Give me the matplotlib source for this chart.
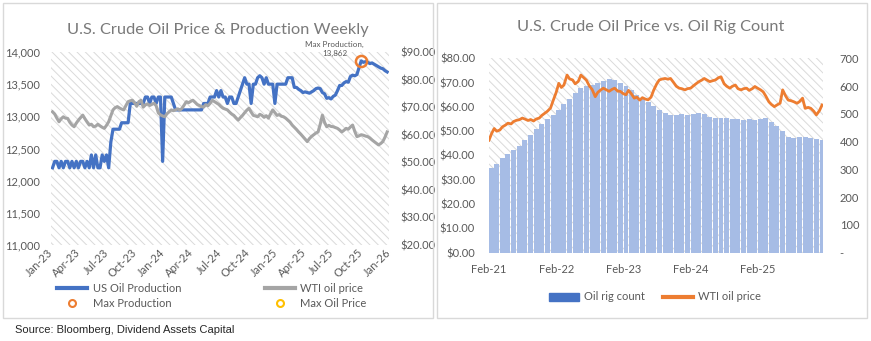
import numpy as np
import pandas as pd
import matplotlib
matplotlib.use("Agg")
import matplotlib.pyplot as plt
import matplotlib.dates as mdates
from matplotlib.lines import Line2D
from matplotlib.patches import Patch, Rectangle
from matplotlib.ticker import FuncFormatter, MultipleLocator

plt.rcParams['font.family'] = ['Lato', 'DejaVu Sans']
plt.rcParams['hatch.linewidth'] = 0.7

BLUE = '#4472C4'
GREY = '#A5A5A5'
ORANGE = '#ED7D31'
GOLD = '#FFC000'
TEXT = '#595959'
TITLE = '#7a7a7a'
HATCH = '#dadada'
BAR = '#a6bce5'

# weekly US crude oil production (thousand b/d), first week of Jan-23 onward
us_production = [
    12200, 12300, 12300, 12200, 12300, 12200, 12300, 12300, 12200, 12300,
    12200, 12300, 12200, 12300, 12300, 12200, 12300, 12200, 12400, 12200,
    12400, 12200, 12200, 12400, 12300, 12400, 12200, 12600, 12800, 12800,
    12800, 12800, 12900, 12900, 12900, 12900, 13200, 13200, 13200, 13200,
    13200, 13200, 13200, 13300, 13300, 13200, 13300, 13300, 13200, 13300,
    13300, 12300, 13300, 13300, 13300, 13300, 13200, 13100, 13100, 13100,
    13100, 13100, 13100, 13100, 13100, 13100, 13100, 13100, 13100, 13100,
    13200, 13200, 13200, 13300, 13300, 13300, 13400, 13300, 13400, 13300,
    13300, 13200, 13300, 13300, 13200, 13200, 13300, 13400, 13500, 13600,
    13500, 13500, 13200, 13500, 13500, 13600, 13631, 13600, 13500, 13600,
    13500, 13500, 13500, 13200, 13500, 13500, 13500, 13500, 13500, 13600,
    13600, 13600, 13450, 13450, 13420, 13400, 13370, 13380, 13370, 13360,
    13380, 13400, 13430, 13440, 13430, 13370, 13350, 13280, 13290, 13270,
    13310, 13330, 13400, 13480, 13480, 13520, 13540, 13530, 13620, 13640,
    13630, 13650, 13760, 13862, 13840, 13850, 13840, 13820, 13830, 13810,
    13790, 13770, 13750, 13740, 13710, 13690,
]

# weekly WTI price ($/bbl), same weeks
wti_weekly = [
    68.3, 67.5, 66.0, 64.7, 65.8, 66.5, 66.0, 65.9, 64.5, 63.5,
    62.9, 64.2, 65.3, 66.2, 67.1, 65.8, 64.6, 63.5, 63.8, 62.9,
    63.1, 63.8, 63.2, 62.7, 62.3, 63.4, 64.7, 66.8, 69.0, 69.8,
    70.2, 69.7, 69.3, 69.0, 70.6, 72.0, 72.3, 72.5, 71.6, 70.3,
    72.0, 72.5, 70.0, 70.8, 71.2, 70.6, 71.0, 71.4, 70.5, 67.9,
    67.2, 66.8, 66.5, 67.6, 68.3, 69.0, 68.7, 69.0, 69.4, 68.9,
    69.6, 70.8, 72.0, 71.6, 72.1, 72.5, 71.8, 71.0, 70.6, 70.2,
    70.0, 70.9, 70.5, 71.4, 72.5, 72.0, 71.5, 71.0, 70.2, 69.6,
    69.3, 69.0, 68.2, 67.5, 67.0, 66.1, 65.3, 66.2, 67.0, 68.0,
    68.9, 69.6, 68.2, 67.0, 66.8, 66.5, 67.4, 67.0, 66.3, 66.9,
    66.0, 67.6, 69.0, 68.0, 67.0, 67.3, 66.7, 66.5, 66.0, 65.3,
    64.6, 63.5, 62.7, 61.9, 61.0, 60.2, 59.3, 58.4, 57.5, 58.6,
    59.4, 60.0, 60.6, 61.0, 63.8, 67.1, 64.5, 62.9, 63.4, 63.0,
    62.9, 62.6, 62.3, 61.7, 61.0, 61.6, 62.3, 62.0, 62.8, 63.5,
    61.2, 59.3, 59.6, 60.0, 59.8, 59.5, 59.3, 58.8, 58.1, 57.5,
    56.9, 56.3, 56.8, 57.5, 59.1, 61.0,
]

# WTI price twice a month from Feb-21
wti_semimonthly = [
    46.3, 49.0, 51.1, 50.0, 50.5, 51.8, 52.5, 53.3, 53.0, 54.0,
    54.5, 54.7, 55.4, 55.0, 54.4, 54.8, 54.2, 55.0, 55.4, 56.5,
    57.4, 58.2, 59.5, 62.5, 66.0, 69.7, 68.0, 69.0, 73.1, 71.5,
    71.1, 69.5, 70.5, 73.1, 72.0, 71.0, 68.5, 67.2, 64.2, 66.0,
    67.0, 67.7, 67.0, 66.4, 67.2, 67.7, 66.5, 66.4, 65.4, 65.0,
    66.8, 65.5, 63.6, 64.0, 62.8, 63.8, 63.2, 62.9, 64.0, 66.8,
    69.5, 71.1, 71.5, 71.7, 71.4, 71.7, 70.0, 68.5, 67.7, 67.5,
    67.0, 67.5, 67.7, 68.6, 69.5, 70.3, 71.0, 71.7, 71.0, 70.4,
    70.8, 71.1, 72.0, 72.4, 69.5, 68.5, 67.7, 68.5, 69.0, 67.5,
    67.0, 67.5, 67.7, 66.8, 67.5, 68.4, 67.6, 67.0, 66.2, 64.5,
    62.1, 61.0, 60.1, 60.8, 61.5, 67.0, 64.5, 62.8, 62.5, 62.1,
    61.5, 62.2, 63.6, 59.4, 59.8, 59.4, 58.2, 56.7, 58.5, 60.8,
]

# monthly US oil rig count from Feb-21
oil_rigs = [
    305, 320, 340, 355, 370, 385, 405, 425, 445, 465,
    480, 495, 515, 535, 552, 575, 592, 600, 605, 612,
    620, 625, 621, 612, 600, 585, 568, 552, 542, 530,
    515, 502, 496, 497, 498, 496, 498, 503, 500, 490,
    486, 484, 484, 482, 480, 478, 480, 479, 480, 484,
    472, 455, 438, 418, 412, 418, 415, 412, 410, 406,
]

prod_dates = pd.date_range('2023-01-06', periods=len(us_production), freq='7D')
wti_dates = pd.date_range('2021-02-01', periods=len(wti_semimonthly), freq='SMS')
rig_dates = pd.date_range('2021-02-01', periods=len(oil_rigs), freq='MS') + pd.Timedelta(days=14)

fig = plt.figure(figsize=(8.71, 3.41), dpi=100)

# panel frames
for x0 in (3, 437):
    fig.add_artist(Rectangle((x0 / 871, 1 - 318 / 341), 430 / 871, 315 / 341,
                             transform=fig.transFigure, facecolor='none',
                             edgecolor='#d9d9d9', lw=1))


def hatch_bg(ax):
    ax.add_patch(Rectangle((0, 0), 1, 1, transform=ax.transAxes, facecolor='white',
                           edgecolor=HATCH, hatch='\\\\\\\\', lw=0, zorder=0))


def style(ax):
    for s in ax.spines.values():
        s.set_visible(False)
    ax.tick_params(length=0, labelsize=8, colors=TEXT)


# ---- left: production & price
ax1 = fig.add_axes([51 / 871, 1 - 245 / 341, 338 / 871, 193 / 341])
hatch_bg(ax1)
ax1.plot(prod_dates, us_production, color=BLUE, lw=2.3, zorder=3)
ax1.set_ylim(11000, 14000)
ax1.yaxis.set_major_locator(MultipleLocator(500))
ax1.yaxis.set_major_formatter(FuncFormatter(lambda v, p: f'{v:,.0f}'))
ax1.set_xlim(pd.Timestamp('2023-01-01'), pd.Timestamp('2026-01-01'))
ax1.xaxis.set_major_locator(mdates.MonthLocator(bymonth=[1, 4, 7, 10]))
ax1.xaxis.set_major_formatter(mdates.DateFormatter('%b-%y'))
style(ax1)
ax1.tick_params(axis='y', pad=8)
ax1.tick_params(axis='x', pad=4)
for lab in ax1.get_xticklabels():
    lab.set_rotation(45)
    lab.set_ha('right')
    lab.set_va('center')
    lab.set_rotation_mode('anchor')

ax1r = ax1.twinx()
ax1r.plot(prod_dates, wti_weekly, color=GREY, lw=2.2, zorder=2)
ax1r.set_ylim(20, 90)
ax1r.yaxis.set_major_locator(MultipleLocator(10))
ax1r.yaxis.set_major_formatter(FuncFormatter(lambda v, p: f'${v:.2f}'))
style(ax1r)
ax1r.tick_params(axis='y', pad=8)

imax = int(np.argmax(us_production))
ax1.plot(prod_dates[imax], us_production[imax], 'o', ms=8, mfc='none',
         mec=ORANGE, mew=1.8, zorder=5)
ax1.annotate(f'Max Production,\n{us_production[imax]:,}',
             (prod_dates[imax], us_production[imax]), xytext=(-19, 3),
             textcoords='offset points', ha='center', va='bottom',
             fontsize=5.8, color=TEXT, linespacing=1.35)

fig.text(218 / 871, 1 - 30 / 341, 'U.S. Crude Oil Price & Production Weekly',
         ha='center', va='center', fontsize=11.8, color=TITLE)

left_handles = [
    Line2D([], [], color=BLUE, lw=3),
    Line2D([], [], ls='none', marker='o', ms=5, mfc='none', mec=ORANGE, mew=1.5),
    Line2D([], [], color=GREY, lw=3),
    Line2D([], [], ls='none', marker='o', ms=5, mfc='none', mec=GOLD, mew=1.5),
]
left_labels = ['US Oil Production', 'Max Production', 'WTI oil price', 'Max Oil Price']
fig.legend(left_handles, left_labels, ncol=2, loc='center',
           bbox_to_anchor=(212 / 871, 1 - 296 / 341), frameon=False,
           fontsize=8, labelcolor=TEXT, handlelength=2.7, columnspacing=7.5,
           labelspacing=0.35, handletextpad=0.5)

# ---- right: price vs rig count
ax2r = fig.add_axes([489 / 871, 1 - 252.7 / 341, 334 / 871, 194.4 / 341])
hatch_bg(ax2r)
ax2r.bar(rig_dates, oil_rigs, width=27, color=BAR, lw=0, zorder=2)
ax2r.set_ylim(0, 700)
ax2r.yaxis.set_major_locator(MultipleLocator(100))
ax2r.yaxis.set_major_formatter(FuncFormatter(lambda v, p: '-' if v == 0 else f'{v:.0f}'))
ax2r.yaxis.tick_right()
style(ax2r)
ax2r.tick_params(axis='y', pad=12)

ax2 = fig.add_axes(ax2r.get_position(), sharex=ax2r)
ax2.patch.set_visible(False)
ax2.plot(wti_dates, wti_semimonthly, color=ORANGE, lw=2.0, zorder=3)
ax2.set_ylim(0, 80)
ax2.yaxis.set_major_locator(MultipleLocator(10))
ax2.yaxis.set_major_formatter(FuncFormatter(lambda v, p: f'${v:.2f}'))
ax2.set_xlim(pd.Timestamp('2021-02-01'), pd.Timestamp('2026-01-20'))
ax2.xaxis.set_major_locator(mdates.YearLocator(month=2, day=1))
ax2.xaxis.set_major_formatter(mdates.DateFormatter('%b-%y'))
style(ax2)
ax2.tick_params(axis='y', pad=10)
ax2.tick_params(axis='x', pad=8)
ax2r.tick_params(axis='x', labelbottom=False)

fig.text(651 / 871, 1 - 27 / 341, 'U.S. Crude Oil Price vs. Oil Rig Count',
         ha='center', va='center', fontsize=11.8, color=TITLE)

right_handles = [Patch(color=BLUE), Line2D([], [], color=ORANGE, lw=3)]
fig.legend(right_handles, ['Oil rig count', 'WTI oil price'], ncol=2, loc='center',
           bbox_to_anchor=(655 / 871, 1 - 297 / 341), frameon=False,
           fontsize=8, labelcolor=TEXT, handlelength=2.7, columnspacing=1.6,
           handletextpad=0.5)

fig.text(15 / 871, 1 - 330 / 341, 'Source: Bloomberg, Dividend Assets Capital',
         ha='left', va='center', fontsize=8, color='#262626',
         family=['Liberation Sans', 'DejaVu Sans'])

fig.savefig('out.png', dpi=100)
